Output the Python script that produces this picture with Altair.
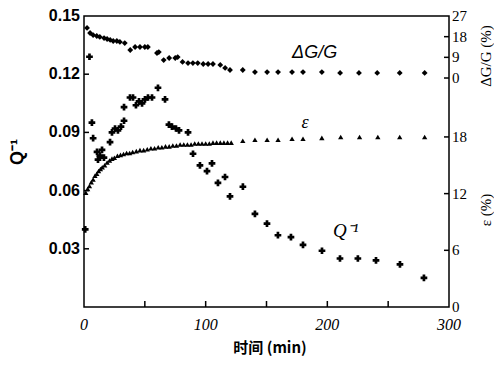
import altair as alt
import pandas as pd

# ---- data ----
q_t = [1, 4.5, 6.5, 7.5, 10.7, 11.5, 13.1, 14.8, 16.4, 21.4, 23.0, 25.5, 27.9, 30.4, 32.9, 32.9,
       37.8, 40.3, 42.7, 45.2, 47.7, 50.1, 52.6, 55.9, 60.8, 66.6, 69.8, 72.3, 75.6, 78.1, 85.5,
       89.6, 95.3, 101.1, 105.2, 110.1, 115.9, 120.0, 130.6, 140.5, 150.4, 159.4, 170.1, 180.0,
       195.6, 210.4, 225.1, 240.0, 259.7, 279.4]
q_v = [0.040, 0.129, 0.095, 0.087, 0.080, 0.076, 0.078, 0.081, 0.077, 0.085, 0.090, 0.092, 0.091,
       0.093, 0.096, 0.103, 0.108, 0.108, 0.104, 0.106, 0.105, 0.107, 0.108, 0.108, 0.113, 0.107,
       0.094, 0.093, 0.092, 0.091, 0.090, 0.079, 0.073, 0.070, 0.074, 0.064, 0.067, 0.057, 0.062,
       0.048, 0.043, 0.037, 0.036, 0.032, 0.029, 0.025, 0.025, 0.024, 0.022, 0.015]

eps_t = [1.5, 3, 4.5, 6, 7.5, 9, 10.5, 12, 13.5, 15, 17, 19, 21, 23, 25, 27.5, 30, 32.5, 35, 37.5,
         40, 43, 46, 49, 52, 55, 58, 61, 64, 67, 70, 73, 76, 79, 82, 85, 88, 91, 94, 97, 100, 103,
         106, 109, 112, 115, 118, 121, 130.5, 140.5, 150.5, 159.5, 171, 180, 195.5, 211, 226.5,
         241.5, 259.5, 280]
eps_v = [12.1, 12.5, 12.8, 13.2, 13.5, 13.9, 14.1, 14.4, 14.6, 14.8, 15.0, 15.3, 15.5, 15.7, 15.8,
         16.0, 16.1, 16.2, 16.3, 16.3, 16.4, 16.5, 16.6, 16.6, 16.7, 16.8, 16.8, 16.9, 16.9, 17.0,
         17.0, 17.1, 17.1, 17.2, 17.2, 17.2, 17.2, 17.3, 17.3, 17.3, 17.3, 17.3, 17.4, 17.4, 17.4,
         17.4, 17.4, 17.4, 17.6, 17.7, 17.7, 17.7, 17.8, 17.8, 17.9, 18.0, 18.0, 18.0, 18.0, 18.0]

dg_t = [2.5, 5, 7.5, 10.5, 13, 16.5, 19, 21.5, 24, 27, 29.5, 33.5, 38, 42, 46, 50, 52.5, 60, 61.5,
        65.5, 70, 75, 77, 81, 85.5, 89.5, 93.5, 98, 102, 106, 112, 116, 120, 130.5, 140.5, 150.5,
        159.5, 171, 180, 195.5, 210.5, 226, 241, 259.5, 280]
dg_v = [21.8, 19.6, 18.7, 18.3, 17.9, 17.4, 17.0, 16.6, 16.1, 16.1, 15.7, 15.2, 12.2, 13.5, 13.5,
        13.5, 13.5, 10.9, 11.3, 7.8, 8.7, 8.7, 9.1, 7.0, 6.5, 6.5, 6.5, 6.1, 6.1, 6.1, 5.7, 4.4,
        3.5, 3.5, 2.6, 2.6, 2.6, 2.6, 2.6, 2.6, 2.2, 2.2, 2.2, 2.2, 2.2]

# tick labels
x_labels = [0, 100, 200, 300]
x_minor = [50, 100, 150, 200, 250]
q_labels = [0.03, 0.06, 0.09, 0.12, 0.15]
eps_labels = [0, 6, 12, 18]
dg_labels = [0, 9, 18, 27]

# titles / annotations
x_title = "时间 (min)"
q_title = "Q\u207b\u00b9"
eps_title = "\u03b5 (%)"
dg_title = "\u0394G/G (%)"
ann_q = {"t": [204.6], "v": [0.039], "txt": ["Q\u207b\u00b9"]}
ann_eps = {"t": [181.6], "v": [19.5], "txt": ["\u03b5"]}
ann_dg = {"t": [171.0], "v": [10.9], "txt": ["\u0394G/G"]}

W, H = 365, 291
Q_DOM = [0, 0.15]
EPS_DOM = [0, 30.8]
DG_DOM = [-99.7, 27]

xs = alt.Scale(domain=[0, 300], nice=False, zero=False)
x_main = alt.X("t:Q", scale=xs, axis=alt.Axis(
    values=x_labels, labels=False, ticks=False, title=None, grid=False,
    domainColor="black", domainWidth=2.5))
x_plain = alt.X("t:Q", scale=xs, axis=None)


def yscale(dom):
    return alt.Scale(domain=dom, nice=False, zero=False)


def yax(orient, width):
    return alt.Axis(orient=orient, labels=False, ticks=False, title=None, grid=False,
                    domainColor="black", domainWidth=width)


def title_text(txt, px, py, angle, font, size, weight="normal", style="normal"):
    return alt.Chart(pd.DataFrame({"txt": [txt]})).mark_text(
        font=font, fontSize=size, fontWeight=weight, fontStyle=style, angle=angle,
        align="center", baseline="middle", color="black").encode(
        x=alt.value(px), y=alt.value(py), text="txt:N")


# ---- Q^-1 group (left axis) ----
qdf = pd.DataFrame({"t": q_t, "v": q_v})
q_pts = alt.Chart(qdf).mark_point(shape="cross", filled=True, size=45, color="black", opacity=1).encode(
    x=x_main, y=alt.Y("v:Q", scale=yscale(Q_DOM), axis=yax("left", 2.5)))
q_tick = alt.Chart(pd.DataFrame({"v": q_labels[:-1]})).mark_rule(color="black", strokeWidth=1.5).encode(
    y=alt.Y("v:Q", scale=yscale(Q_DOM), axis=None), x=alt.value(0), x2=alt.value(5))
q_lab = alt.Chart(pd.DataFrame({"v": q_labels})).mark_text(
    font="Liberation Sans", fontWeight="bold", fontSize=16, align="right",
    baseline="middle", color="black").encode(
    y=alt.Y("v:Q", scale=yscale(Q_DOM), axis=None), x=alt.value(-4),
    text=alt.Text("v:Q", format=".2f"))
x_tick = alt.Chart(pd.DataFrame({"t": x_minor})).mark_rule(color="black", strokeWidth=1.5).encode(
    x=x_plain, y=alt.value(H), y2=alt.value(H - 6))
x_lab = alt.Chart(pd.DataFrame({"t": x_labels})).mark_text(
    font="Liberation Serif", fontStyle="italic", fontSize=16, align="center",
    baseline="middle", color="black").encode(
    x=x_plain, y=alt.value(H + 18), text=alt.Text("t:Q", format="d"))
q_txt = alt.Chart(pd.DataFrame(ann_q)).mark_text(
    font="Liberation Serif", fontStyle="italic", fontSize=19, align="left",
    baseline="middle", color="black").encode(
    x=x_plain, y=alt.Y("v:Q", scale=yscale(Q_DOM), axis=None), text="txt:N")
q_group = alt.layer(q_pts, q_tick, q_lab, x_tick, x_lab, q_txt)

# ---- epsilon group (lower right axis) ----
edf = pd.DataFrame({"t": eps_t, "v": eps_v})
e_pts = alt.Chart(edf).mark_point(shape="triangle-up", filled=True, size=28, color="black", opacity=1).encode(
    x=x_plain, y=alt.Y("v:Q", scale=yscale(EPS_DOM), axis=yax("right", 1.5)))
e_tick = alt.Chart(pd.DataFrame({"v": eps_labels[1:]})).mark_rule(color="black", strokeWidth=1.5).encode(
    y=alt.Y("v:Q", scale=yscale(EPS_DOM), axis=None), x=alt.value(W - 5), x2=alt.value(W))
e_lab = alt.Chart(pd.DataFrame({"v": eps_labels})).mark_text(
    font="Liberation Serif", fontSize=15, align="left", baseline="middle", color="black").encode(
    y=alt.Y("v:Q", scale=yscale(EPS_DOM), axis=None), x=alt.value(W + 3),
    text=alt.Text("v:Q", format="d"))
e_txt = alt.Chart(pd.DataFrame(ann_eps)).mark_text(
    font="Liberation Serif", fontStyle="italic", fontSize=18, align="center",
    baseline="middle", color="black").encode(
    x=x_plain, y=alt.Y("v:Q", scale=yscale(EPS_DOM), axis=None), text="txt:N")
e_group = alt.layer(e_pts, e_tick, e_lab, e_txt)

# ---- dG/G group (upper right axis) ----
gdf = pd.DataFrame({"t": dg_t, "v": dg_v})
g_pts = alt.Chart(gdf).mark_point(shape="diamond", filled=True, size=34, color="black", opacity=1).encode(
    x=x_plain, y=alt.Y("v:Q", scale=yscale(DG_DOM), axis=yax("right", 1.5)))
g_tick = alt.Chart(pd.DataFrame({"v": dg_labels[:-1]})).mark_rule(color="black", strokeWidth=1.5).encode(
    y=alt.Y("v:Q", scale=yscale(DG_DOM), axis=None), x=alt.value(W - 5), x2=alt.value(W))
g_lab = alt.Chart(pd.DataFrame({"v": dg_labels})).mark_text(
    font="Liberation Serif", fontSize=15, align="left", baseline="middle", color="black").encode(
    y=alt.Y("v:Q", scale=yscale(DG_DOM), axis=None), x=alt.value(W + 3),
    text=alt.Text("v:Q", format="d"))
g_txt = alt.Chart(pd.DataFrame(ann_dg)).mark_text(
    font="Liberation Sans", fontStyle="italic", fontSize=18, align="left",
    baseline="middle", color="black").encode(
    x=x_plain, y=alt.Y("v:Q", scale=yscale(DG_DOM), axis=None), text="txt:N")
g_group = alt.layer(g_pts, g_tick, g_lab, g_txt)

# ---- axis titles ----
titles = alt.layer(
    title_text(q_title, -66, 136, 270, "Liberation Sans", 18, "bold"),
    title_text(x_title, 186, H + 41, 0, "Noto Sans CJK SC", 15, "bold"),
    title_text(dg_title, W + 37, 40, 270, "Liberation Serif", 15),
    title_text(eps_title, W + 37, 194, 270, "Liberation Serif", 15),
)

chart = alt.layer(q_group, e_group, g_group, titles).resolve_scale(y="independent").properties(
    width=W, height=H, autosize="none",
    padding={"left": 76, "top": 8, "right": 45, "bottom": 51},
    background="white",
).configure_view(stroke="black", strokeWidth=1.5)

chart.save("out.html", embed_options={"renderer": "svg", "actions": False})
